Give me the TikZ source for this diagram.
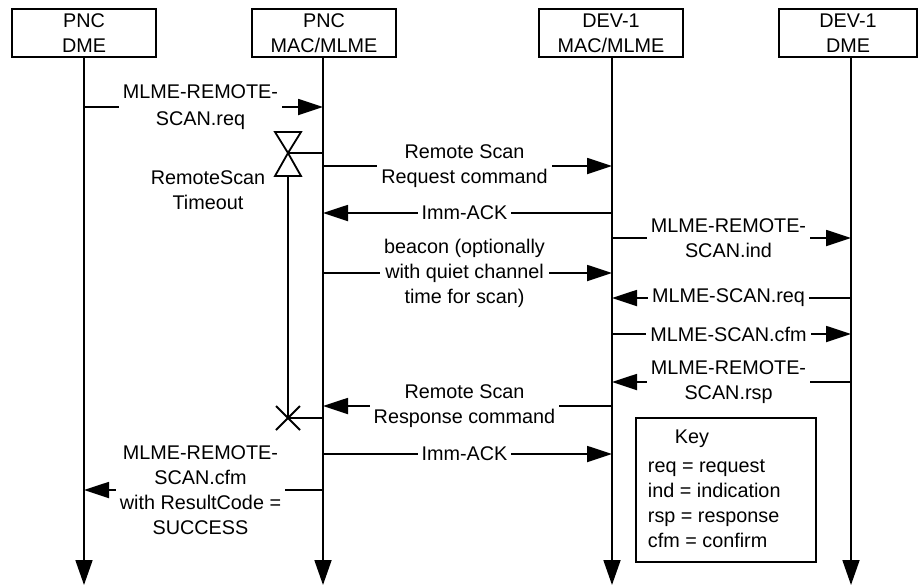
\documentclass[tikz,border=0pt]{standalone}
\usepackage{fontspec}
\setmainfont{Liberation Sans}
\usetikzlibrary{arrows.meta, positioning}
\tikzset{
  lifebox/.style={draw, minimum width=144pt, minimum height=48pt, align=center, inner sep=0pt},
  life/.style={-{Triangle[length=25pt, width=17pt]}},
  msg/.style={-{Triangle[length=25pt, width=16pt]}},
  lbl/.style={fill=white, align=center, inner xsep=4pt, inner ysep=1pt, xshift=-3pt},
  timer/.style={fill=white, line join=miter}
}

\begin{document}
\begin{tikzpicture}[x=1pt, y=-1pt, line width=1.8pt, font=\fontsize{19.8}{25}\selectfont]
  \useasboundingbox (0,0) rectangle (918,587);
  % entities
  \node[lifebox] (pncdme) at (84,33) {PNC\\DME};
  \node[lifebox] (pncmac) at (324,33) {PNC\\MAC/MLME};
  \node[lifebox] (devmac) at (611,33) {DEV-1\\MAC/MLME};
  \node[lifebox, minimum width=138pt] (devdme) at (848,33) {DEV-1\\DME};
  \coordinate (lpncdme) at (84,57);
  \coordinate (lpncmac) at (323,57);
  \coordinate (ldevmac) at (612,57);
  \coordinate (ldevdme) at (851,57);
  \foreach \n in {lpncdme, lpncmac, ldevmac, ldevdme}
    \draw[life] (\n) -- (\n |- 0,585);
  %
  \draw[msg] (lpncdme |- 0,107) -- (lpncmac |- 0,107) node[midway, lbl] {MLME-REMOTE-\\[2pt]SCAN.req};
  \draw[msg] (lpncmac |- 0,166) -- (ldevmac |- 0,166) node[midway, lbl] {Remote Scan\\Request command};
  \draw[msg] (ldevmac |- 0,213) -- (lpncmac |- 0,213) node[midway, lbl] {Imm-ACK};
  \draw[msg] (ldevmac |- 0,238) -- (ldevdme |- 0,238) node[midway, lbl] {MLME-REMOTE-\\SCAN.ind};
  \draw[msg] (lpncmac |- 0,273) -- (ldevmac |- 0,273) node[midway, lbl] {beacon (optionally\\with quiet channel\\time for scan)};
  \draw[msg] (ldevdme |- 0,298) -- (ldevmac |- 0,298) node[midway, lbl] {MLME-SCAN.req};
  \draw[msg] (ldevmac |- 0,334) -- (ldevdme |- 0,334) node[midway, lbl] {MLME-SCAN.cfm};
  \draw[msg] (ldevdme |- 0,382) -- (ldevmac |- 0,382) node[midway, lbl] {MLME-REMOTE-\\SCAN.rsp};
  \draw[msg] (ldevmac |- 0,406) -- (lpncmac |- 0,406) node[midway, lbl] {Remote Scan\\Response command};
  \draw[msg] (lpncmac |- 0,454) -- (ldevmac |- 0,454) node[midway, lbl] {Imm-ACK};
  \draw[msg] (lpncmac |- 0,490) -- (lpncdme |- 0,490) node[midway, lbl] {MLME-REMOTE-\\SCAN.cfm\\with ResultCode =\\SUCCESS};
  %
  % RemoteScan timer
  \coordinate (tmrstart) at (288,153);
  \coordinate (tmrstop) at (288,418);
  \draw (tmrstart) -- (lpncmac |- tmrstart);
  \draw (tmrstop) -- (lpncmac |- tmrstop);
  \draw[timer] (tmrstart) -- ++(-13,-21) -- ++(26,0) -- cycle;
  \draw[timer] (tmrstart) -- ++(-13,23) -- ++(26,0) -- cycle;
  \draw ([yshift=-23pt]tmrstart) -- (tmrstop);
  \draw (tmrstop) ++(-12,-12) -- ++(24,24) (tmrstop) ++(-12,12) -- ++(24,-24);
  \node[align=center] (tmrlbl) at (208,190) {RemoteScan\\Timeout};
  %
  % key
  \node[draw, minimum width=180pt, minimum height=144pt] (key) at (726,490) {};
  \node (keyttl) at (692,439) {Key};
  \node[anchor=west, align=left, inner sep=0pt] (keytxt) at (647,504) {req = request\\ind = indication\\rsp = response\\cfm = confirm};
\end{tikzpicture}
\end{document}
